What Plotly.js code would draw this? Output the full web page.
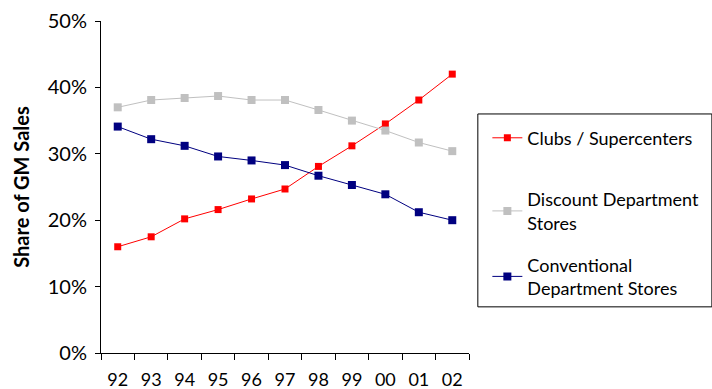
<!DOCTYPE html>
<html>
<head>
<meta charset="utf-8">
<script src="https://cdn.plot.ly/plotly-3.0.1.min.js"></script>
<style>
  html, body { margin: 0; padding: 0; background: #fff; }
  #chart { width: 712px; height: 389px; }
</style>
</head>
<body>
<div id="chart"></div>
<script>
// Share of general-merchandise sales by store format, 1992-2002 (%)
const years = ["92", "93", "94", "95", "96", "97", "98", "99", "00", "01", "02"];
const clubsSupercenters = [16.0, 17.5, 20.2, 21.6, 23.2, 24.7, 28.1, 31.2, 34.5, 38.1, 42.0];
const discountDeptStores = [37.0, 38.1, 38.4, 38.7, 38.1, 38.1, 36.6, 35.0, 33.5, 31.7, 30.4];
const conventionalDeptStores = [34.1, 32.2, 31.2, 29.6, 29.0, 28.3, 26.7, 25.3, 23.9, 21.2, 20.0];
const yTicks = [0, 10, 20, 30, 40, 50];

const FONT = "Lato, 'Open Sans', sans-serif";

function series(name, values, color, size, legendId) {
  return {
    type: "scatter",
    mode: "lines+markers",
    name: name,
    x: years,
    y: values,
    legend: legendId,
    line: { color: color, width: 1 },
    marker: { symbol: "square", size: size, color: color },
    hoverinfo: "x+y"
  };
}

const traces = [
  series("Clubs / Supercenters", clubsSupercenters, "#ff0000", 7, "legend"),
  series("Discount Department<br>Stores", discountDeptStores, "#c0c0c0", 8, "legend2"),
  series("Conventional<br>Department Stores", conventionalDeptStores, "#000080", 8, "legend3")
];

// one legend per entry (placed on the page) so each entry sits at its own height
function legendAt(yCenter) {
  return {
    xref: "container",
    yref: "container",
    x: 0.6845,
    xanchor: "left",
    y: yCenter,
    yanchor: "middle",
    bgcolor: "rgba(0,0,0,0)",
    borderwidth: 0,
    font: { family: FONT, size: 18 },
    itemclick: false,
    itemdoubleclick: false
  };
}

const layout = {
  width: 712,
  height: 389,
  margin: { l: 101, r: 243, t: 21, b: 36, autoexpand: false },
  paper_bgcolor: "#ffffff",
  plot_bgcolor: "#ffffff",
  font: { family: FONT, color: "#000", size: 16 },
  showlegend: true,
  xaxis: {
    type: "category",
    range: [-0.5, 10.5],
    automargin: false,
    showgrid: false,
    zeroline: false,
    showline: true,
    linecolor: "#000",
    linewidth: 1,
    ticks: "outside",
    tickson: "boundaries",
    ticklen: 6,
    tickcolor: "#000",
    tickfont: { family: FONT, size: 18 },
    ticklabelstandoff: 10,
    fixedrange: true
  },
  yaxis: {
    range: [0, 50],
    automargin: false,
    tickvals: yTicks,
    ticktext: yTicks.map(v => v + "%"),
    showgrid: false,
    zeroline: false,
    showline: true,
    linecolor: "#000",
    linewidth: 1,
    ticks: "outside",
    ticklen: 5,
    tickcolor: "#000",
    tickfont: { family: FONT, size: 20 },
    ticklabelstandoff: 4,
    title: {
      text: "<b>Share of GM Sales</b>",
      font: { family: FONT, size: 20 },
      standoff: 12
    },
    fixedrange: true
  },
  legend: legendAt(0.645),
  legend2: legendAt(0.4576),
  legend3: legendAt(0.2892),
  shapes: [{
    type: "rect",
    xref: "paper",
    yref: "paper",
    x0: 1.024,
    x1: 1.66,
    y0: 0.139,
    y1: 0.72,
    line: { color: "#000", width: 1 },
    fillcolor: "rgba(0,0,0,0)"
  }]
};

Plotly.newPlot("chart", traces, layout, { displayModeBar: false, staticPlot: true });
</script>
</body>
</html>
